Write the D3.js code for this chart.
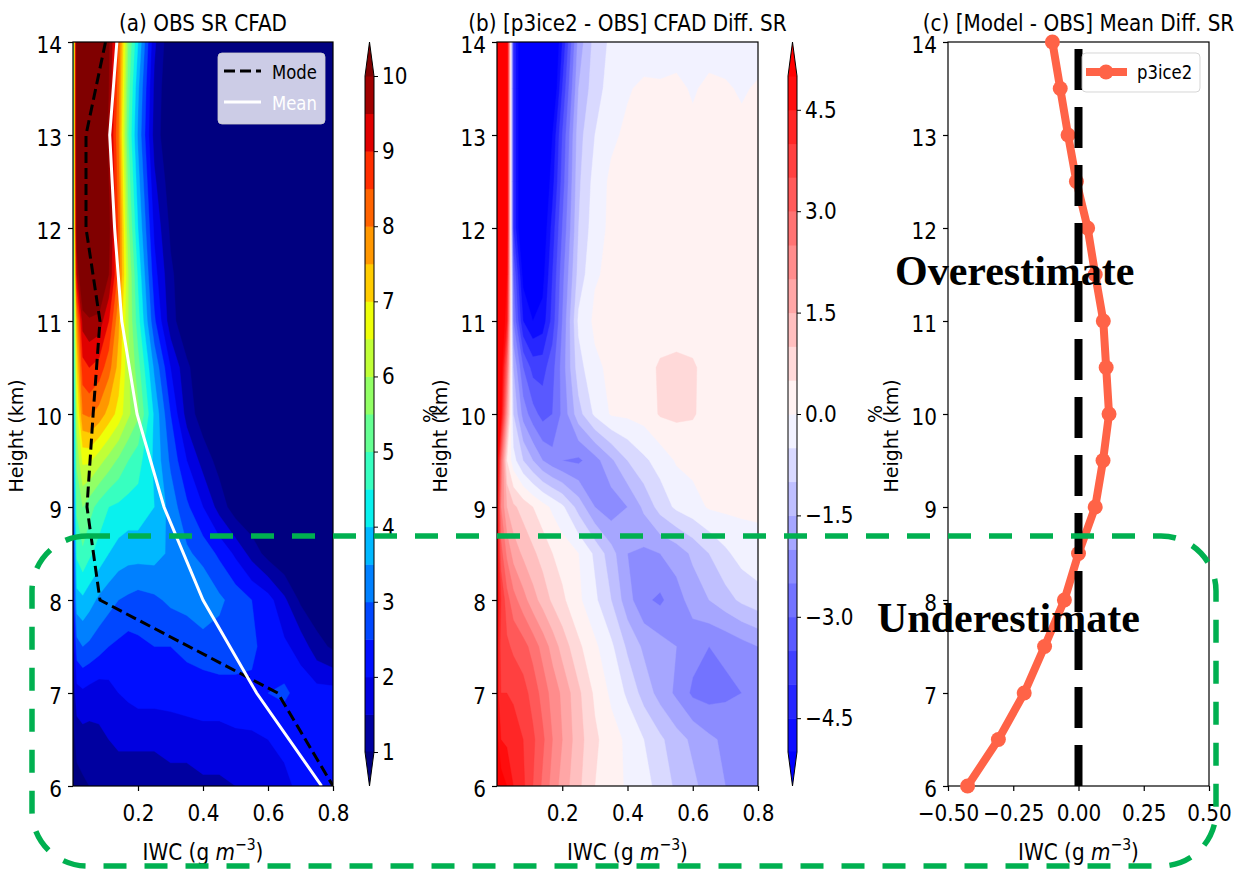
<!DOCTYPE html>
<html>
<head>
<meta charset="utf-8">
<script src="https://cdn.jsdelivr.net/npm/d3@7"></script>
<style>
  body { margin: 0; background: #fff; }
  svg text { font-family: "DejaVu Sans", sans-serif; }
  /* the figure was stretched vertically, horizontal text looks taller */
  svg text.st { transform-box: fill-box; transform-origin: center; transform: scaleY(1.15); }
</style>
</head>
<body>
<svg id="fig" width="1242" height="872"></svg>
<script>
// IWC bins (g m-3) and height bins (km) of the CFAD grids
const iwcBins = [0, 0.012, 0.03, 0.05, 0.08, 0.11, 0.14, 0.17, 0.2, 0.25, 0.3, 0.35, 0.4, 0.45, 0.5, 0.55, 0.6, 0.65, 0.7, 0.75, 0.8];
const heightBins = [14, 13.5, 13, 12.5, 12, 11.5, 11, 10.5, 10, 9.5, 9, 8.5, 8, 7.5, 7, 6.5, 6];

// (a) observed CFAD, % (one row per height bin, top to bottom)
const obsCfad = [
  [4, 11, 12, 12, 11.5, 10.1, 8.4, 5.5, 4.0, 1.6, 0.6, 0.4, 0.3, 0.3, 0.3, 0.3, 0.3, 0.3, 0.3, 0.3, 0.3],
  [4, 11, 12, 12, 11.5, 10, 8.2, 5.2, 3.6, 1.4, 0.5, 0.4, 0.3, 0.3, 0.3, 0.3, 0.3, 0.3, 0.3, 0.3, 0.3],
  [4, 11, 12, 12, 11.3, 9.8, 8, 5, 3.4, 1.3, 0.5, 0.4, 0.3, 0.3, 0.3, 0.3, 0.3, 0.3, 0.3, 0.3, 0.3],
  [4, 10.8, 11.8, 11.8, 11.2, 10, 8.2, 5.3, 3.7, 1.6, 0.7, 0.4, 0.3, 0.3, 0.3, 0.3, 0.3, 0.3, 0.3, 0.3, 0.3],
  [4, 10.5, 11.5, 11.5, 11.2, 10.2, 8.4, 5.6, 4, 1.9, 0.9, 0.5, 0.3, 0.3, 0.3, 0.3, 0.3, 0.3, 0.3, 0.3, 0.3],
  [4, 9.5, 11, 11.2, 11, 10, 8.3, 6, 4.4, 2.2, 1.1, 0.6, 0.4, 0.3, 0.3, 0.3, 0.3, 0.3, 0.3, 0.3, 0.3],
  [4, 7.8, 9.7, 9.9, 9.8, 9, 7.6, 6, 4.7, 2.6, 1.2, 0.6, 0.4, 0.3, 0.3, 0.3, 0.3, 0.3, 0.3, 0.3, 0.3],
  [3.5, 7, 8.8, 9, 8.8, 8.2, 7.3, 6.1, 5.2, 3.4, 2, 1.1, 0.6, 0.4, 0.3, 0.3, 0.3, 0.3, 0.3, 0.3, 0.3],
  [3, 6.3, 8, 8.1, 7.8, 7.3, 6.8, 6.1, 5.6, 3.9, 2.5, 1.3, 0.7, 0.5, 0.4, 0.3, 0.3, 0.3, 0.3, 0.3, 0.3],
  [3, 5.6, 6.6, 6.6, 6.2, 5.8, 5.4, 5, 4.7, 3.9, 2.9, 2, 1.3, 0.8, 0.5, 0.4, 0.3, 0.3, 0.3, 0.3, 0.3],
  [2.5, 5.1, 5.5, 5.2, 4.8, 4.5, 4.4, 4.3, 4.3, 4, 3.3, 2.6, 2, 1.3, 0.7, 0.5, 0.4, 0.3, 0.3, 0.3, 0.3],
  [2, 4.6, 4.9, 4.6, 4.3, 4, 3.8, 3.7, 3.7, 3.7, 3.4, 3.1, 2.8, 2.4, 1.9, 1.3, 0.8, 0.5, 0.4, 0.3, 0.3],
  [2, 3.8, 3.9, 3.7, 3.4, 3.2, 3, 2.9, 2.8, 2.9, 3.1, 3.2, 3.5, 3.1, 2.8, 2.5, 2.2, 1.6, 0.9, 0.6, 0.5],
  [1.5, 2.8, 3, 2.9, 2.7, 2.5, 2.4, 2.3, 2.4, 2.5, 2.5, 2.6, 2.7, 2.8, 2.8, 2.6, 2.3, 2.1, 1.8, 1.2, 0.9],
  [1.2, 1.8, 1.9, 1.8, 1.7, 1.8, 2, 2.1, 2.2, 2.2, 2.2, 2.3, 2.3, 2.3, 2.3, 2.4, 2.5, 2.6, 2.3, 2.2, 2.2],
  [0.8, 1.2, 1.3, 1.3, 1.4, 1.5, 1.6, 1.6, 1.6, 1.6, 1.7, 1.7, 1.8, 1.8, 1.9, 1.9, 2, 2.1, 2.2, 2.3, 2.4],
  [0.5, 0.8, 0.9, 1.0, 1.1, 1.2, 1.2, 1.2, 1.2, 1.2, 1.3, 1.3, 1.4, 1.4, 1.5, 1.6, 1.7, 1.9, 2.1, 2.3, 2.4]
];

// (b) p3ice2 - OBS CFAD difference, %
const diffCfad = [
  [6, 6, 5.5, -4, -6, -6.5, -6.5, -6, -4.5, -1.8, -0.8, -0.4, -0.3, -0.3, -0.2, -0.2, -0.2, -0.2, -0.2, -0.2, -0.2],
  [6, 6, 5.5, -4, -6, -6.5, -6.5, -5.8, -4, -1.5, -0.7, -0.3, -0.05, 0.1, 0.05, 0.1, -0.05, 0.1, 0.05, -0.05, 0.05],
  [6, 6, 5.5, -4, -6, -6.5, -6, -5, -3.5, -1.2, -0.5, -0.1, 0.1, 0.1, 0.1, 0.1, 0.1, 0.1, 0.1, 0.1, 0.1],
  [6, 6, 5.5, -4, -6, -6.3, -5.8, -4.7, -3.3, -1.1, -0.3, 0.1, 0.15, 0.1, 0.1, 0.1, 0.1, 0.1, 0.1, 0.1, 0.1],
  [6, 6, 5.5, -4, -6, -6, -5.5, -4.3, -3, -1, -0.2, 0.1, 0.1, 0.1, 0.1, 0.1, 0.1, 0.1, 0.1, 0.1, 0.1],
  [6, 6, 5, -3, -5.2, -5.5, -5.2, -4, -2.7, -0.8, -0.05, 0.1, 0.1, 0.1, 0.1, 0.1, 0.1, 0.1, 0.1, 0.1, 0.1],
  [6, 6, 4.5, -2.5, -4.5, -5, -4.8, -3.8, -2.5, -0.4, 0.1, 0.15, 0.15, 0.15, 0.1, 0.1, 0.1, 0.1, 0.1, 0.1, 0.1],
  [6, 5.5, 3, -1.5, -3, -3.7, -3.7, -3.2, -2.3, -0.7, -0.1, 0.1, 0.15, 0.2, 0.6, 0.7, 0.6, 0.2, 0.15, 0.1, 0.1],
  [6, 5, 2, -1, -2.2, -2.8, -3.2, -3, -2.4, -1.2, -0.4, 0.05, 0.1, 0.2, 0.55, 0.6, 0.55, 0.3, 0.2, 0.1, 0.1],
  [5.5, 3, 0.5, -0.3, -1, -1.5, -2, -2.3, -2.5, -2.6, -2.2, -1.6, -1, -0.6, -0.3, 0.05, 0.15, 0.2, 0.15, 0.1, 0.1],
  [5, 2.5, 1.5, 1.1, 0.8, 0.5, 0.2, -0.1, -0.4, -1.2, -2, -2.3, -2, -1.4, -0.8, -0.4, -0.2, 0.05, 0.1, 0.1, 0.1],
  [5, 3.2, 2.4, 1.8, 1.4, 1.1, 0.8, 0.5, 0.3, 0, -0.6, -1.3, -2, -2.1, -2, -1.8, -1.4, -1, -0.6, -0.3, -0.2],
  [5, 4, 3.2, 2.7, 2.2, 1.7, 1.3, 0.9, 0.6, 0.1, -0.4, -1, -1.8, -2.4, -2.6, -2.2, -1.8, -1.5, -1.2, -0.9, -0.7],
  [4.8, 3.8, 3.6, 3.4, 3.2, 2.8, 2.3, 1.8, 1.3, 0.6, 0.1, -0.4, -1.1, -1.6, -1.8, -2, -2.3, -2.5, -2.4, -2.2, -2],
  [4.8, 4, 4, 3.9, 3.7, 3.3, 2.8, 2.3, 1.9, 1.1, 0.4, -0.1, -0.6, -1.2, -1.7, -2.1, -2.6, -2.7, -2.6, -2.5, -2.3],
  [5.2, 4.5, 4.4, 4.3, 4, 3.6, 3.1, 2.5, 2, 1.2, 0.6, 0.2, -0.1, -0.5, -0.9, -1.3, -1.6, -1.9, -2.1, -2.3, -2.3],
  [5.6, 5.3, 5, 4.5, 4.1, 3.5, 2.9, 2.3, 1.8, 1.1, 0.5, 0.15, -0.05, -0.3, -0.7, -1.1, -1.4, -1.7, -2, -2.2, -2.3]
];

// mode / mean IWC profiles of the observations
const profileHeights = [14, 13, 12, 11, 10, 9, 8, 7, 6];
const modeIwc = [0.1, 0.04, 0.04, 0.083, 0.062, 0.043, 0.083, 0.63, 0.8];
const meanIwc = [0.135, 0.113, 0.128, 0.15, 0.197, 0.28, 0.4, 0.565, 0.765];

// (c) model minus obs mean IWC
const p3ice2MeanDiff = [-0.1, -0.07, -0.04, -0.008, 0.035, 0.064, 0.095, 0.106, 0.117, 0.094, 0.064, 0.0, -0.054, -0.13, -0.208, -0.307, -0.425];

const obsLevels = d3.range(1, 10.001, 0.5);
const diffLevels = d3.range(-5, 5.001, 0.5);
const obsTicks = d3.range(1, 11);
const diffTicks = [-4.5, -3, -1.5, 0, 1.5, 3, 4.5];
const heightTicks = d3.range(6, 15);

const svg = d3.select("#fig");
const plotTop = 42, plotBottom = 786;
const FS = 20;

// matplotlib colormaps
const jetR = d3.scaleLinear().domain([0, 0.35, 0.66, 0.89, 1]).range([0, 0, 1, 1, 0.5]).clamp(true);
const jetG = d3.scaleLinear().domain([0, 0.125, 0.375, 0.64, 0.91, 1]).range([0, 0, 1, 1, 0, 0]).clamp(true);
const jetB = d3.scaleLinear().domain([0, 0.11, 0.34, 0.65, 1]).range([0.5, 1, 1, 0, 0]).clamp(true);
const jet = t => d3.rgb(jetR(t) * 255, jetG(t) * 255, jetB(t) * 255).formatHex();
const bwr = d3.scaleLinear().domain([0, 0.5, 1]).range(["#0000ff", "#ffffff", "#ff0000"]).clamp(true);

function bandColors(levels, cmap) {
  const lo = levels[0], hi = levels[levels.length - 1];
  // first entry = under colour, then one per level (region >= level)
  const cols = [cmap(0)];
  levels.forEach((l, k) => {
    if (k < levels.length - 1) cols.push(cmap(((l + levels[k + 1]) / 2 - lo) / (hi - lo)));
    else cols.push(cmap(1));
  });
  return cols;
}
const obsColors = bandColors(obsLevels, jet);
const diffColors = bandColors(diffLevels, bwr);

const y = d3.scaleLinear().domain([6, 14]).range([plotBottom, plotTop]);

function styleText(sel, size) {
  sel.selectAll("text").attr("font-size", size).attr("fill", "#000").attr("class", "st");
}

function drawAxes(x, xTicks, fmt) {
  const gy = svg.append("g").attr("transform", `translate(${x.range()[0]},0)`)
    .call(d3.axisLeft(y).tickValues(heightTicks).tickSize(5).tickPadding(6).tickFormat(d3.format("d")));
  gy.attr("font-family", null).attr("font-size", null);
  gy.select(".domain").remove();
  gy.selectAll("line").attr("stroke-width", 1.2);
  styleText(gy, FS);
  gy.selectAll("text").attr("dy", "0.45em");

  const gx = svg.append("g").attr("transform", `translate(0,${plotBottom})`)
    .call(d3.axisBottom(x).tickValues(xTicks).tickSize(5).tickPadding(15).tickFormat(fmt));
  gx.attr("font-family", null).attr("font-size", null);
  gx.select(".domain").remove();
  gx.selectAll("line").attr("stroke-width", 1.2);
  styleText(gx, FS);

  svg.append("rect")
    .attr("x", x.range()[0]).attr("y", plotTop)
    .attr("width", x.range()[1] - x.range()[0]).attr("height", plotBottom - plotTop)
    .attr("fill", "none").attr("stroke", "#000").attr("stroke-width", 1.2);

  const cx = (x.range()[0] + x.range()[1]) / 2;
  const lab = svg.append("text").attr("class", "st").attr("x", cx).attr("y", 859)
    .attr("text-anchor", "middle").attr("font-size", FS);
  lab.append("tspan").text("IWC (g ");
  lab.append("tspan").attr("font-style", "italic").text("m");
  lab.append("tspan").attr("dy", -9).attr("font-size", 14).text("−3");
  lab.append("tspan").attr("dy", 9).text(")");

  svg.append("text")
    .attr("transform", `translate(${x.range()[0] - 50},436) rotate(-90)`)
    .attr("text-anchor", "middle").attr("font-size", 19).text("Height (km)");
}

function title(x, txt) {
  svg.append("text").attr("class", "st")
    .attr("x", (x.range()[0] + x.range()[1]) / 2).attr("y", 30)
    .attr("text-anchor", "middle").attr("font-size", FS).text(txt);
}

function drawField(x, grid, levels, colors, id) {
  const n = iwcBins.length, m = heightBins.length;
  const values = grid.flat();
  const ix = d3.scaleLinear().domain(d3.range(n)).range(iwcBins).clamp(true);
  const iy = d3.scaleLinear().domain(d3.range(m)).range(heightBins).clamp(true);
  const proj = d3.geoTransform({
    point(px, py) { this.stream.point(x(ix(px - 0.5)), y(iy(py - 0.5))); }
  });
  const path = d3.geoPath(proj);

  svg.append("clipPath").attr("id", id).append("rect")
    .attr("x", x.range()[0]).attr("y", plotTop)
    .attr("width", x.range()[1] - x.range()[0]).attr("height", plotBottom - plotTop);
  const g = svg.append("g").attr("clip-path", `url(#${id})`);
  g.append("rect")
    .attr("x", x.range()[0]).attr("y", plotTop)
    .attr("width", x.range()[1] - x.range()[0]).attr("height", plotBottom - plotTop)
    .attr("fill", colors[0]);
  const contours = d3.contours().size([n, m]).thresholds(levels)(values);
  g.selectAll("path.band").data(contours).join("path")
    .attr("class", "band")
    .attr("d", path)
    .attr("fill", (d, k) => colors[k + 1])
    .attr("stroke", (d, k) => colors[k + 1])
    .attr("stroke-width", 0.4);
  return g;
}

function colorbar(x0, levels, colors, ticks, fmt, labelX) {
  const w = 9, y0 = 76, y1 = 752;
  const cb = d3.scaleLinear().domain([levels[0], levels[levels.length - 1]]).range([y1, y0]);
  const g = svg.append("g");
  levels.slice(0, -1).forEach((l, k) => {
    g.append("rect").attr("x", x0).attr("width", w)
      .attr("y", cb(levels[k + 1])).attr("height", cb(l) - cb(levels[k + 1]) + 0.5)
      .attr("fill", colors[k + 1]);
  });
  g.append("path").attr("d", `M${x0},${y0 + 0.5}L${x0 + w / 2},${plotTop}L${x0 + w},${y0 + 0.5}Z`)
    .attr("fill", colors[colors.length - 1]);
  g.append("path").attr("d", `M${x0},${y1 - 0.5}L${x0 + w / 2},${plotBottom}L${x0 + w},${y1 - 0.5}Z`)
    .attr("fill", colors[0]);
  g.append("path")
    .attr("d", `M${x0},${y0}L${x0 + w / 2},${plotTop}L${x0 + w},${y0}L${x0 + w},${y1}L${x0 + w / 2},${plotBottom}L${x0},${y1}Z`)
    .attr("fill", "none").attr("stroke", "#000").attr("stroke-width", 1);
  const ga = svg.append("g").attr("transform", `translate(${x0 + w},0)`)
    .call(d3.axisRight(cb).tickValues(ticks).tickSize(4).tickPadding(4).tickFormat(fmt));
  ga.attr("font-family", null).attr("font-size", null);
  ga.select(".domain").remove();
  styleText(ga, FS);
  svg.append("text")
    .attr("transform", `translate(${labelX},${(plotTop + plotBottom) / 2}) rotate(-90)`)
    .attr("text-anchor", "middle").attr("font-size", 19).text("%");
}

// ---------- panel (a)
const xA = d3.scaleLinear().domain([0, 0.8]).range([73, 333]);
const gA = drawField(xA, obsCfad, obsLevels, obsColors, "clipA");
const profLine = d3.line().x(d => xA(d[0])).y(d => y(d[1]));
gA.append("path").attr("d", profLine(d3.zip(modeIwc, profileHeights)))
  .attr("fill", "none").attr("stroke", "#000").attr("stroke-width", 3).attr("stroke-dasharray", "11,5");
gA.append("path").attr("d", profLine(d3.zip(meanIwc, profileHeights)))
  .attr("fill", "none").attr("stroke", "#fff").attr("stroke-width", 3);
drawAxes(xA, [0.2, 0.4, 0.6, 0.8], d3.format(".1f"));
title(xA, "(a) OBS SR CFAD");
colorbar(365, obsLevels, obsColors, obsTicks, d3.format("d"), 437);

// legend (a)
const legA = svg.append("g");
legA.append("rect").attr("x", 218).attr("y", 53).attr("width", 107).attr("height", 71).attr("rx", 4)
  .attr("fill", "rgba(255,255,255,0.8)").attr("stroke", "rgba(204,204,204,0.8)");
legA.append("line").attr("x1", 224).attr("x2", 261).attr("y1", 71).attr("y2", 71)
  .attr("stroke", "#000").attr("stroke-width", 3).attr("stroke-dasharray", "11,5");
legA.append("line").attr("x1", 224).attr("x2", 261).attr("y1", 102).attr("y2", 102)
  .attr("stroke", "#fff").attr("stroke-width", 3);
legA.append("text").attr("class", "st").attr("x", 272).attr("y", 78).attr("font-size", 16.5).text("Mode");
legA.append("text").attr("class", "st").attr("x", 272).attr("y", 109).attr("font-size", 16.5).attr("fill", "#fff").text("Mean");

// ---------- panel (b)
const xB = d3.scaleLinear().domain([0, 0.8]).range([497, 758]);
drawField(xB, diffCfad, diffLevels, diffColors, "clipB");
drawAxes(xB, [0.2, 0.4, 0.6, 0.8], d3.format(".1f"));
title(xB, "(b) [p3ice2 - OBS] CFAD Diff. SR");
colorbar(788, diffLevels, diffColors, diffTicks, d3.format(".1f"), 882);

// ---------- panel (c)
const xC = d3.scaleLinear().domain([-0.5, 0.5]).range([948, 1209]);
drawAxes(xC, [-0.5, -0.25, 0, 0.25, 0.5], d3.format(".2f"));
title(xC, "(c) [Model - OBS] Mean Diff. SR");
const gC = svg.append("g");
const diffLine = d3.line().x(d => xC(d[0])).y(d => y(d[1]));
const cData = d3.zip(p3ice2MeanDiff, heightBins);
gC.append("path").attr("d", diffLine(cData))
  .attr("fill", "none").attr("stroke", "tomato").attr("stroke-width", 8).attr("stroke-linejoin", "round");
gC.selectAll("circle").data(cData).join("circle")
  .attr("cx", d => xC(d[0])).attr("cy", d => y(d[1])).attr("r", 7.5).attr("fill", "tomato");
gC.append("path").attr("d", diffLine([[0, 6], [0, 14]]))
  .attr("stroke", "#000").attr("stroke-width", 8).attr("stroke-dasharray", "41,17");

const legC = svg.append("g");
legC.append("rect").attr("x", 1082).attr("y", 53).attr("width", 118).attr("height", 39).attr("rx", 4)
  .attr("fill", "rgba(255,255,255,0.8)").attr("stroke", "rgba(204,204,204,0.8)");
legC.append("line").attr("x1", 1086).attr("x2", 1127).attr("y1", 72).attr("y2", 72)
  .attr("stroke", "tomato").attr("stroke-width", 8);
legC.append("circle").attr("cx", 1106).attr("cy", 72).attr("r", 7.5).attr("fill", "tomato");
legC.append("text").attr("class", "st").attr("x", 1137).attr("y", 78).attr("font-size", 16.5).text("p3ice2");

// annotations
svg.append("text").attr("x", 895).attr("y", 285)
  .style("font-family", "'Liberation Serif', 'Times New Roman', serif")
  .attr("font-weight", "bold").attr("font-size", 42).text("Overestimate");
svg.append("text").attr("x", 877).attr("y", 632)
  .style("font-family", "'Liberation Serif', 'Times New Roman', serif")
  .attr("font-weight", "bold").attr("font-size", 42).text("Underestimate");

svg.append("rect").attr("x", 32).attr("y", 536).attr("width", 1184).attr("height", 330).attr("rx", 55)
  .attr("fill", "none").attr("stroke", "#00b050").attr("stroke-width", 5.5).attr("stroke-dasharray", "23,18");
</script>
</body>
</html>
